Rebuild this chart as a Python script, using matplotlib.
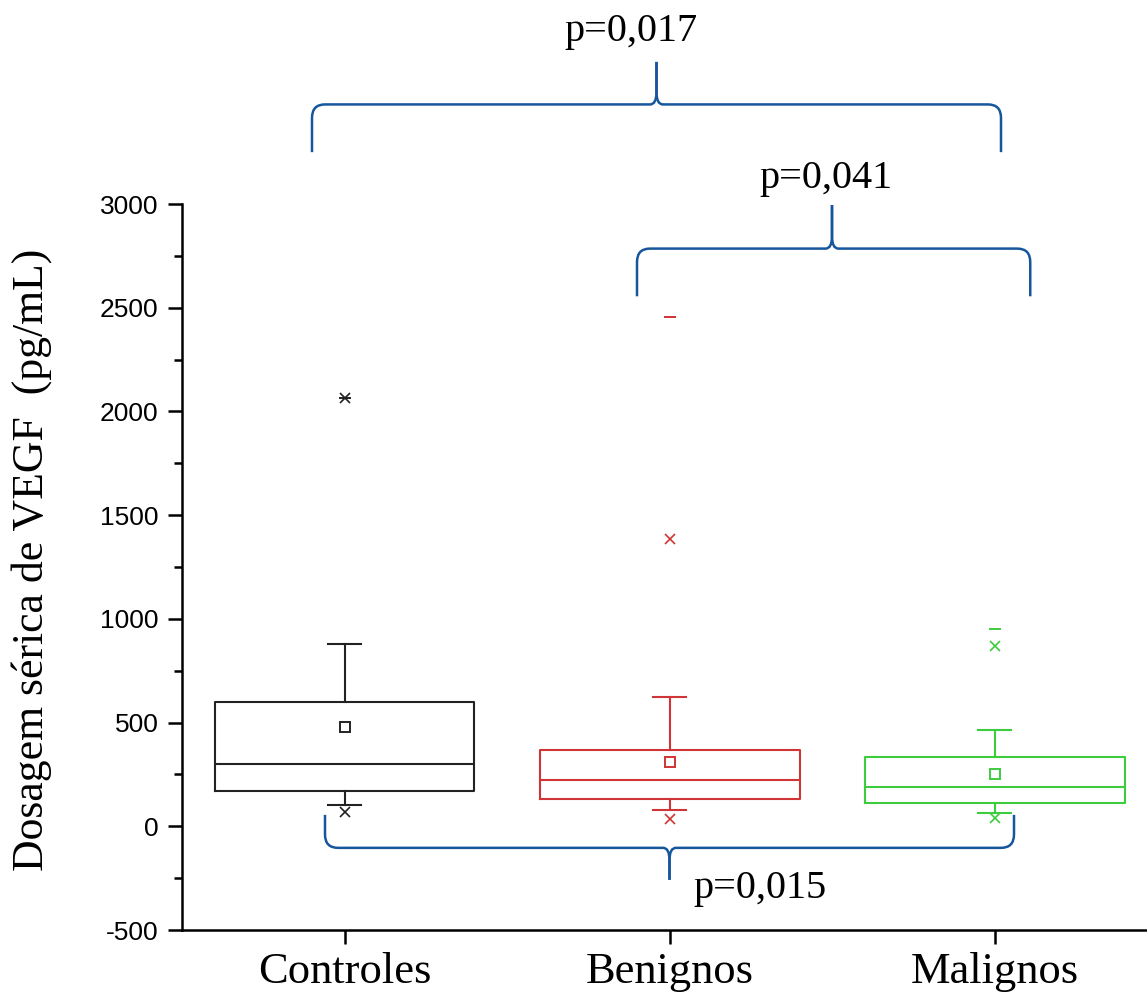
import numpy as np
import matplotlib
matplotlib.use("Agg")
import matplotlib.pyplot as plt
from matplotlib.path import Path
from matplotlib.patches import PathPatch
from matplotlib.ticker import MultipleLocator

# Data (pg/mL)
groups = ['Controles', 'Benignos', 'Malignos']
q1 = [169, 133, 111]
medians = [299, 222, 190]
q3 = [598, 366, 334]
whisk_lo = [101, 78, 63]
whisk_hi = [880, 623, 463]
means = [480, 309, 251]
pct_low = [70, 37, 40]        # x markers (1%)
pct_high = [2067, 1384, 869]  # x markers (99%)
max_vals = [2067, 2455, 950]  # dash markers (max)
box_colors = ['#222222', '#d03434', '#3dcc3d']

# p-value brackets: (left x, right x, tip x, end y, bar y, tip y, label, label x, label y)
brackets = [
    (0.90, 3.02, 1.96, 3250, 3480, 3685, 'p=0,017', 1.88, 3830),
    (1.90, 3.11, 2.50, 2555, 2785, 2995, 'p=0,041', 2.48, 3125),
    (0.94, 3.06, 2.00, 55, -104, -258, 'p=0,015', 2.28, -300),
]
brace_color = '#16569c'

plt.rcParams['font.family'] = ['Liberation Sans', 'DejaVu Sans']
plt.rcParams['axes.unicode_minus'] = False

fig = plt.figure(figsize=(11.47, 10.01), dpi=100)
ax = fig.add_axes([182 / 1147, 71 / 1001, 975 / 1147, 726 / 1001])

positions = np.arange(1, len(groups) + 1)
stats = []
for i in range(len(groups)):
    stats.append({
        'label': groups[i], 'q1': q1[i], 'med': medians[i], 'q3': q3[i],
        'whislo': whisk_lo[i], 'whishi': whisk_hi[i], 'mean': means[i],
        'fliers': [pct_low[i], pct_high[i]],
    })

bp = ax.bxp(stats, positions=positions, widths=0.8, capwidths=0.1,
            showmeans=True, showfliers=True, patch_artist=False,
            boxprops=dict(linewidth=1.5), medianprops=dict(linewidth=1.5),
            whiskerprops=dict(linewidth=1.5), capprops=dict(linewidth=1.5),
            meanprops=dict(marker='s', markerfacecolor='none', markersize=7,
                           markeredgewidth=1.4),
            flierprops=dict(marker='x', markersize=7.5, markeredgewidth=1.2))

for i, c in enumerate(box_colors):
    bp['boxes'][i].set_color(c)
    bp['medians'][i].set_color(c)
    bp['means'][i].set_markeredgecolor(c)
    bp['fliers'][i].set_markeredgecolor(c)
    for ln in bp['whiskers'][2 * i:2 * i + 2] + bp['caps'][2 * i:2 * i + 2]:
        ln.set_color(c)
    ax.plot(positions[i], max_vals[i], marker='_', color=c, markersize=8,
            markeredgewidth=1.4, linestyle='none')

# axes styling
ax.set_xlim(0.5, 3.5)
ax.set_ylim(-500, 3000)
ax.yaxis.set_major_locator(MultipleLocator(500))
ax.yaxis.set_minor_locator(MultipleLocator(250))
ax.set_xticks(positions)
ax.set_xticklabels(groups, fontfamily='Liberation Serif', fontsize=32)
ax.tick_params(axis='y', which='major', direction='out', length=10, width=1.8,
               labelsize=19, pad=7)
ax.tick_params(axis='y', which='minor', direction='out', length=6, width=1.8)
ax.tick_params(axis='x', which='major', direction='out', length=10, width=1.8, pad=6)
for s in ['top', 'right']:
    ax.spines[s].set_visible(False)
for s in ['left', 'bottom']:
    ax.spines[s].set_linewidth(1.8)

fig.text(32 / 1147, 1 - 560 / 1001, 'Dosagem sérica de VEGF  (pg/mL)', rotation=90,
         ha='center', va='center', fontfamily='Liberation Serif', fontsize=31.5)


def draw_brace(ax, x0, x1, xt, y_end, y_bar, y_tip, color):
    # curly bracket in data coords, corners rounded by ~15 px
    sgn = 1 if y_tip > y_bar else -1
    rx = 0.04
    ry = 65 * sgn
    for xe, d in ((x0, 1), (x1, -1)):
        verts = [(xe, y_end), (xe, y_bar - ry), (xe, y_bar), (xe + d * rx, y_bar),
                 (xt - d * rx * 0.5, y_bar), (xt, y_bar), (xt, y_bar + ry * 0.9),
                 (xt, y_tip)]
        codes = [Path.MOVETO, Path.LINETO, Path.CURVE3, Path.CURVE3,
                 Path.LINETO, Path.CURVE3, Path.CURVE3, Path.LINETO]
        ax.add_patch(PathPatch(Path(verts, codes), facecolor='none',
                               edgecolor=color, linewidth=1.8, clip_on=False))


for (x0, x1, xt, ye, yb, yt, lab, lx, ly) in brackets:
    draw_brace(ax, x0, x1, xt, ye, yb, yt, brace_color)
    ax.text(lx, ly, lab, ha='center', va='center', fontsize=29,
            fontfamily='Liberation Serif', clip_on=False)

fig.savefig('out.png', dpi=100)
